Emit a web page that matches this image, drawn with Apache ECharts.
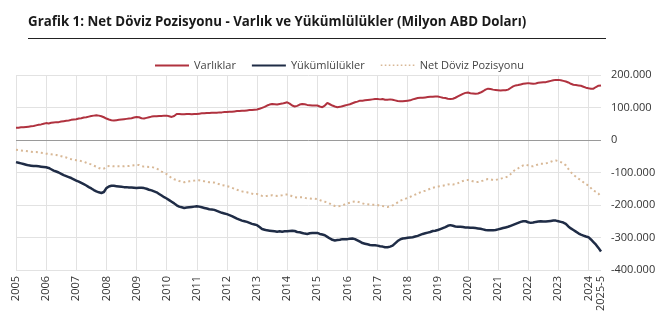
<!DOCTYPE html>
<html><head><meta charset="utf-8">
<script src="https://cdn.jsdelivr.net/npm/echarts@6/dist/echarts.min.js"></script>
<style>html,body{margin:0;padding:0;background:#fff}#c{width:669px;height:330px}</style>
</head><body><div id="c"></div>
<script>
// Monthly data, 2005-12 ... 2025-05 (million USD)
const startYear = 2005, startMonth = 12, pointCount = 234;
const yearLabels = ['2005','2006','2007','2008','2009','2010','2011','2012','2013','2014','2015','2016','2017','2018','2019','2020','2021','2022','2023','2024'];
const lastLabel = '2025-5';

const varliklar = [
38000,38000,39000,39000,40000,41000,42000,43000,45000,47000,48000,50000,
52000,51000,53000,54000,55000,55000,57000,58000,59000,60000,62000,63000,
64000,66000,67000,69000,70000,72000,74000,75000,76000,75000,73000,70000,
66000,63000,61000,60000,61000,62000,63000,64000,65000,66000,67000,69000,
71000,70000,67000,66000,68000,70000,72000,73000,73000,74000,74000,75000,
75000,73000,71000,74000,80000,80000,79000,79000,80000,80000,79000,80000,
80000,81000,82000,82000,83000,83000,84000,84000,84000,85000,85000,86000,
86000,87000,87000,88000,89000,89000,90000,90000,91000,92000,92000,93000,
94000,96000,99000,102000,106000,109000,111000,110000,109000,111000,112000,114000,
116000,112000,106000,103000,105000,109000,111000,110000,108000,107000,106000,106000,
106000,103000,101000,106000,114000,110000,106000,103000,101000,102000,104000,106000,
108000,110000,113000,116000,118000,121000,121000,122000,123000,124000,125000,126000,
126000,125000,126000,124000,124000,125000,124000,122000,120000,119000,119000,120000,
121000,122000,125000,127000,129000,130000,130000,131000,132000,133000,133000,134000,
134000,132000,130000,129000,127000,126000,127000,130000,134000,138000,142000,145000,
146000,144000,143000,142000,143000,146000,150000,155000,158000,157000,155000,154000,
153000,152000,153000,153000,155000,160000,165000,168000,169000,171000,173000,174000,
175000,174000,173000,174000,176000,177000,178000,178000,180000,182000,184000,185000,
185000,184000,182000,180000,177000,173000,170000,169000,168000,167000,164000,161000,
159000,158000,158000,163000,167000,168000];

const yukumlulukler = [
-68000,-70000,-72000,-74000,-76000,-78000,-79000,-80000,-80000,-81000,-82000,-83000,
-84000,-86000,-90000,-94000,-97000,-100000,-104000,-108000,-111000,-114000,-117000,-121000,
-125000,-128000,-132000,-136000,-140000,-145000,-149000,-154000,-158000,-161000,-163000,-160000,
-148000,-143000,-141000,-141000,-142000,-143000,-144000,-145000,-145000,-146000,-146000,-147000,
-148000,-147000,-147000,-148000,-150000,-153000,-155000,-158000,-161000,-166000,-171000,-176000,
-180000,-185000,-190000,-195000,-201000,-205000,-207000,-209000,-208000,-207000,-206000,-205000,
-204000,-205000,-207000,-209000,-211000,-213000,-214000,-215000,-218000,-221000,-224000,-226000,
-228000,-231000,-234000,-238000,-242000,-245000,-248000,-250000,-252000,-255000,-258000,-260000,
-262000,-268000,-274000,-276000,-278000,-279000,-280000,-281000,-282000,-281000,-282000,-281000,
-281000,-280000,-279000,-280000,-283000,-284000,-286000,-288000,-289000,-287000,-286000,-286000,
-286000,-289000,-291000,-293000,-298000,-303000,-307000,-309000,-308000,-307000,-305000,-305000,
-305000,-304000,-303000,-305000,-309000,-313000,-317000,-319000,-321000,-323000,-324000,-324000,
-325000,-327000,-328000,-330000,-330000,-328000,-325000,-318000,-311000,-306000,-303000,-302000,
-301000,-300000,-299000,-297000,-295000,-292000,-289000,-287000,-285000,-283000,-280000,-279000,
-277000,-274000,-271000,-268000,-264000,-262000,-264000,-266000,-267000,-267000,-268000,-269000,
-269000,-270000,-270000,-271000,-272000,-273000,-275000,-277000,-278000,-278000,-278000,-277000,
-275000,-273000,-271000,-269000,-267000,-264000,-261000,-258000,-255000,-252000,-250000,-250000,
-253000,-255000,-254000,-252000,-251000,-250000,-251000,-251000,-250000,-249000,-248000,-248000,
-250000,-252000,-254000,-258000,-266000,-272000,-277000,-282000,-287000,-291000,-294000,-297000,
-299000,-306000,-314000,-322000,-332000,-343000];

const netPozisyon = [
-30000,-31000,-32000,-33000,-34000,-35000,-36000,-37000,-37000,-38000,-39000,-40000,
-42000,-43000,-44000,-45000,-46000,-48000,-50000,-52000,-54000,-57000,-59000,-61000,
-62000,-63000,-65000,-67000,-70000,-73000,-75000,-79000,-82000,-86000,-89000,-88000,
-82000,-80000,-80000,-81000,-81000,-81000,-81000,-81000,-80000,-80000,-79000,-78000,
-77000,-77000,-80000,-82000,-82000,-83000,-83000,-85000,-88000,-92000,-97000,-101000,
-105000,-111000,-117000,-121000,-123000,-126000,-128000,-130000,-128000,-127000,-126000,-125000,
-124000,-124000,-125000,-127000,-128000,-130000,-130000,-131000,-134000,-136000,-139000,-140000,
-142000,-144000,-147000,-150000,-153000,-156000,-158000,-160000,-161000,-163000,-165000,-167000,
-166000,-169000,-172000,-173000,-172000,-171000,-170000,-171000,-172000,-171000,-170000,-168000,
-168000,-170000,-173000,-176000,-177000,-176000,-176000,-178000,-180000,-180000,-181000,-181000,
-182000,-185000,-188000,-190000,-192000,-196000,-200000,-203000,-204000,-203000,-201000,-198000,
-195000,-193000,-190000,-189000,-190000,-192000,-195000,-197000,-198000,-199000,-199000,-199000,
-200000,-202000,-203000,-205000,-206000,-204000,-201000,-197000,-192000,-187000,-184000,-181000,
-178000,-175000,-171000,-168000,-165000,-161000,-158000,-156000,-153000,-150000,-147000,-145000,
-143000,-142000,-141000,-139000,-137000,-136000,-137000,-136000,-133000,-129000,-126000,-124000,
-123000,-125000,-127000,-129000,-129000,-127000,-125000,-122000,-120000,-121000,-123000,-123000,
-121000,-119000,-117000,-115000,-112000,-105000,-97000,-91000,-87000,-82000,-78000,-76000,
-78000,-81000,-81000,-78000,-75000,-73000,-73000,-72000,-70000,-67000,-64000,-63000,
-65000,-68000,-72000,-78000,-89000,-99000,-107000,-113000,-119000,-124000,-130000,-136000,
-140000,-148000,-156000,-159000,-165000,-175000];

const categories = [];
for (let i = 0; i < pointCount; i++) {
  const m = (startMonth - 1 + i) % 12 + 1;
  const y = startYear + Math.floor((startMonth - 1 + i) / 12);
  categories.push(y + '-' + m);
}

function fmt(v) {
  const s = String(Math.abs(v)).replace(/\B(?=(\d{3})+(?!\d))/g, '.');
  return (v < 0 ? '-' : '') + s;
}

const chart = echarts.init(document.getElementById('c'), null, {renderer: 'canvas'});
const FONT = '"Open Sans", "Noto Sans", sans-serif';
const RED = '#b0323f', NAVY = '#1f2c46', TAN = '#d8b896';
const solidIcon = 'path://M0,4 L34,4 L34,6.2 L0,6.2 Z';
let dotPath = 'path://';
for (let k = 0; k < 9; k++) { const x = k * 4; dotPath += 'M' + x + ',4 L' + (x + 1.6) + ',4 L' + (x + 1.6) + ',5.6 L' + x + ',5.6 Z '; }
dotPath += 'M0,0 L0.01,0 L0.01,10 L0,10 Z M33.99,0 L34,0 L34,10 L33.99,10 Z';

chart.setOption({
  animation: false,
  textStyle: {fontFamily: FONT},
  title: {
    text: 'Grafik 1: Net Döviz Pozisyonu - Varlık ve Yükümlülükler (Milyon ABD Doları)',
    left: 23, top: 11,
    textStyle: {fontFamily: FONT, fontSize: 13.3, fontWeight: 'bold', color: '#1a1a1a'}
  },
  graphic: [{
    type: 'line', shape: {x1: 28, y1: 38.5, x2: 606, y2: 38.5},
    style: {stroke: '#222', lineWidth: 1}
  }],
  legend: {
    left: 150, top: 55,
    itemWidth: 34, itemHeight: 10, itemGap: 16,
    textStyle: {fontFamily: FONT, fontSize: 11, color: '#444'},
    data: [
      {name: 'Varlıklar', icon: solidIcon},
      {name: 'Yükümlülükler', icon: solidIcon},
      {name: 'Net Döviz Pozisyonu', icon: dotPath}
    ]
  },
  grid: {left: 16, right: 68, top: 75, bottom: 60},
  xAxis: {
    type: 'category', data: categories, boundaryGap: false,
    axisLine: {show: false}, axisTick: {show: false},
    axisLabel: {
      rotate: 90, margin: 6, fontSize: 11, color: '#333', fontFamily: FONT,
      interval: function (i) { return i % 12 === 0 || i === pointCount - 1; },
      formatter: function (v, i) {
        if (i === pointCount - 1) return lastLabel;
        return yearLabels[i / 12] || '';
      }
    },
    splitLine: {show: true, interval: function (i) { return i % 12 === 0; }, lineStyle: {color: '#e2e2e2', width: 1}}
  },
  yAxis: {
    type: 'value', position: 'right', min: -400000, max: 200000, interval: 100000,
    axisLine: {show: false}, axisTick: {show: false},
    axisLabel: {margin: 10, fontSize: 11, color: '#333', fontFamily: FONT, formatter: fmt},
    splitLine: {lineStyle: {color: '#e2e2e2', width: 1}}
  },
  series: [
    {
      name: 'Varlıklar', type: 'line', data: varliklar, showSymbol: false, symbol: 'none',
      lineStyle: {color: RED, width: 2}, itemStyle: {color: RED}, z: 3,
      markLine: {silent: true, symbol: 'none', label: {show: false},
        lineStyle: {color: '#9a9a9a', type: 'solid', width: 1}, data: [{yAxis: 0}]}
    },
    {
      name: 'Yükümlülükler', type: 'line', data: yukumlulukler, showSymbol: false, symbol: 'none',
      lineStyle: {color: NAVY, width: 2.5}, itemStyle: {color: NAVY}, z: 3
    },
    {
      name: 'Net Döviz Pozisyonu', type: 'line', data: netPozisyon, showSymbol: false, symbol: 'none',
      lineStyle: {color: TAN, width: 2, type: [2, 3]}, itemStyle: {color: TAN}, z: 2
    }
  ]
});
</script></body></html>
